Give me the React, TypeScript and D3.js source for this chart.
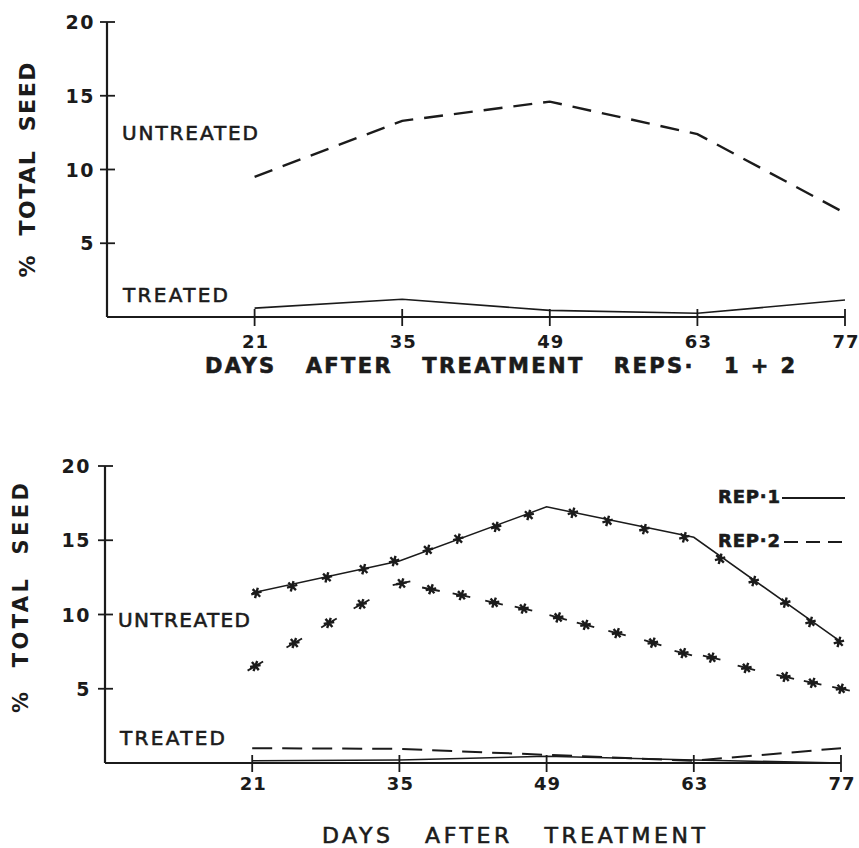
import React, { useEffect, useRef } from 'react';
import * as d3 from 'd3';

// x ticks (days after treatment) and y ticks (% total seed)
const days = [21, 35, 49, 63, 77];
const yTicks = [5, 10, 15, 20];

// top panel: reps 1 + 2 combined
const topUntreated = [9.5, 13.3, 14.6, 12.4, 7.05];
const topTreated = [0.6, 1.2, 0.45, 0.25, 1.15];

// bottom panel: untreated, line vertices
const rep1Untreated = [11.45, 13.6, 17.25, 15.2, 8.15];

// bottom panel: untreated, plotted marks
const rep1MarkDays = [21.4, 24.8, 28.1, 31.6, 34.5, 37.7, 40.6, 44.2, 47.3, 51.5, 54.8, 58.3, 62.1, 65.5, 68.7, 71.7, 74.1, 76.8];
const rep1MarkValues = [11.45, 11.9, 12.5, 13.05, 13.6, 14.35, 15.1, 15.9, 16.7, 16.85, 16.3, 15.75, 15.2, 13.75, 12.25, 10.8, 9.5, 8.15];
const rep2MarkDays = [21.3, 25, 28.3, 31.4, 35.2, 38, 40.9, 44, 46.8, 50.1, 52.7, 55.7, 59.1, 62, 64.7, 68, 71.7, 74.3, 77];
const rep2MarkValues = [6.53, 8.08, 9.43, 10.7, 12.1, 11.7, 11.3, 10.8, 10.4, 9.8, 9.3, 8.75, 8.1, 7.4, 7.1, 6.4, 5.8, 5.4, 5.0];

// bottom panel: treated
const rep1Treated = [0.15, 0.2, 0.45, 0.2, 0.0];
const rep2Treated = [1.0, 0.95, 0.55, 0.15, 1.0];

const W = 859;
const H = 848;
const INK = '#1b1b1b';
const FONT = '"DejaVu Sans", sans-serif';

type Panel = {
  x0: number; x1: number; yTop: number; yBase: number;
  tickLabelRight: number; tickLabelBase: number;
  yTitleX: number; yTitleMid: number; yTitleLen: number; yTitleSize: number;
};

function drawFrame(g: any, p: Panel) {
  const x = d3.scaleLinear().domain([7, 77]).range([p.x0, p.x1]);
  const y = d3.scaleLinear().domain([0, 20]).range([p.yBase, p.yTop]);

  // axes
  g.append('line').attr('x1', p.x0).attr('x2', p.x0).attr('y1', y(20)).attr('y2', p.yBase)
    .attr('stroke', INK).attr('stroke-width', 2.2);
  g.append('line').attr('x1', p.x0).attr('x2', x(77)).attr('y1', p.yBase).attr('y2', p.yBase)
    .attr('stroke', INK).attr('stroke-width', 2.2);

  g.selectAll('.ytick').data(yTicks).enter().append('line')
    .attr('x1', p.x0 - 7).attr('x2', p.x0 + 8)
    .attr('y1', (d: number) => y(d)).attr('y2', (d: number) => y(d))
    .attr('stroke', INK).attr('stroke-width', 1.8);
  g.selectAll('.ylab').data(yTicks).enter().append('text')
    .attr('x', p.tickLabelRight).attr('y', (d: number) => y(d) + 7)
    .attr('text-anchor', 'end').attr('font-family', FONT).attr('font-weight', 'bold')
    .attr('font-size', 19).attr('letter-spacing', 1.5).attr('fill', INK)
    .text((d: number) => d);

  g.selectAll('.xtick').data(days).enter().append('line')
    .attr('x1', (d: number) => x(d)).attr('x2', (d: number) => x(d))
    .attr('y1', p.yBase - 8).attr('y2', p.yBase + 9)
    .attr('stroke', INK).attr('stroke-width', 1.8);
  g.selectAll('.xlab').data(days).enter().append('text')
    .attr('x', (d: number) => x(d) + 1).attr('y', p.tickLabelBase)
    .attr('text-anchor', 'middle').attr('font-family', FONT).attr('font-weight', 'bold')
    .attr('font-size', 18).attr('letter-spacing', 1).attr('fill', INK)
    .text((d: number) => d);

  g.append('text')
    .attr('transform', `translate(${p.yTitleX},${p.yTitleMid}) rotate(-90)`)
    .attr('text-anchor', 'middle').attr('font-family', FONT).attr('font-weight', 'bold')
    .attr('font-size', p.yTitleSize).attr('fill', INK)
    .attr('textLength', p.yTitleLen).attr('lengthAdjust', 'spacing')
    .attr('xml:space', 'preserve')
    .text('%  TOTAL  SEED');

  return { x, y };
}

function label(g: any, txt: string, x: number, y: number, len: number, size = 20, weight = 'normal') {
  g.append('text').attr('x', x).attr('y', y)
    .attr('font-family', FONT).attr('font-size', size).attr('font-weight', weight)
    .attr('fill', INK).attr('stroke', INK).attr('stroke-width', 0.6)
    .attr('textLength', len).attr('lengthAdjust', 'spacing')
    .attr('xml:space', 'preserve')
    .text(txt);
}

const App = () => {
  const svgRef = useRef<SVGSVGElement>(null);

  useEffect(() => {
    if (!svgRef.current) return;
    const svg = d3.select(svgRef.current);
    svg.selectAll('*').remove();
    svg.append('rect').attr('width', W).attr('height', H).attr('fill', '#fff');

    // ---------- top panel ----------
    const top = svg.append('g');
    const t = drawFrame(top, {
      x0: 107, x1: 845, yTop: 22, yBase: 317,
      tickLabelRight: 95, tickLabelBase: 348,
      yTitleX: 35, yTitleMid: 170, yTitleLen: 215, yTitleSize: 22,
    });
    const lineT = d3.line<number>().x((_, i) => t.x(days[i])).y(d => t.y(d));
    top.append('path').attr('d', lineT(topUntreated)).attr('fill', 'none')
      .attr('stroke', INK).attr('stroke-width', 2.4).attr('stroke-dasharray', '19 11');
    top.append('path').attr('d', lineT(topTreated)).attr('fill', 'none')
      .attr('stroke', INK).attr('stroke-width', 1.6);

    label(top, 'UNTREATED', 122, 140, 136);
    label(top, 'TREATED', 123, 302, 105);
    label(top, 'DAYS   AFTER   TREATMENT   REPS·   1 + 2', 205, 373, 590, 21, 'bold');

    // ---------- bottom panel ----------
    const bot = svg.append('g');
    const b = drawFrame(bot, {
      x0: 105, x1: 841, yTop: 466, yBase: 763,
      tickLabelRight: 91, tickLabelBase: 790,
      yTitleX: 28, yTitleMid: 598, yTitleLen: 230, yTitleSize: 21,
    });
    const lineB = d3.line<number>().x((_, i) => b.x(days[i])).y(d => b.y(d));

    // rep 1 untreated, solid with marks
    bot.append('path').attr('d', lineB(rep1Untreated)).attr('fill', 'none')
      .attr('stroke', INK).attr('stroke-width', 1.5);

    const star = d3.symbol().type(d3.symbolAsterisk).size(80);
    bot.selectAll('.m1').data(rep1MarkDays).enter().append('path')
      .attr('d', star())
      .attr('transform', (d: number, i: number) => `translate(${b.x(d)},${b.y(rep1MarkValues[i])}) rotate(15)`)
      .attr('fill', 'none').attr('stroke', INK).attr('stroke-width', 2.4);

    // rep 2 untreated, dashed with marks: short dash through each mark
    const pts = rep2MarkDays.map((d, i) => [b.x(d), b.y(rep2MarkValues[i])]);
    pts.forEach((pt, i) => {
      const a = pts[Math.max(0, i - 1)];
      const c = pts[Math.min(pts.length - 1, i + 1)];
      const ang = Math.atan2(c[1] - a[1], c[0] - a[0]);
      const h = 9;
      bot.append('line')
        .attr('x1', pt[0] - h * Math.cos(ang)).attr('y1', pt[1] - h * Math.sin(ang))
        .attr('x2', pt[0] + h * Math.cos(ang)).attr('y2', pt[1] + h * Math.sin(ang))
        .attr('stroke', INK).attr('stroke-width', 1.8);
    });
    bot.selectAll('.m2').data(rep2MarkDays).enter().append('path')
      .attr('d', star())
      .attr('transform', (d: number, i: number) => `translate(${b.x(d)},${b.y(rep2MarkValues[i])}) rotate(20)`)
      .attr('fill', 'none').attr('stroke', INK).attr('stroke-width', 2.4);

    // treated
    bot.append('path').attr('d', lineB(rep1Treated)).attr('fill', 'none')
      .attr('stroke', INK).attr('stroke-width', 1.6);
    bot.append('path').attr('d', lineB(rep2Treated)).attr('fill', 'none')
      .attr('stroke', INK).attr('stroke-width', 2).attr('stroke-dasharray', '20 10');

    label(bot, 'UNTREATED', 118, 627, 132);
    label(bot, 'TREATED', 120, 745, 105);
    label(bot, 'DAYS   AFTER   TREATMENT', 322, 843, 383, 22);

    // legend
    label(bot, 'REP·1', 718, 503, 62, 18, 'bold');
    bot.append('line').attr('x1', 782).attr('x2', 845).attr('y1', 498).attr('y2', 498)
      .attr('stroke', INK).attr('stroke-width', 2.2);
    label(bot, 'REP·2', 718, 547, 62, 18, 'bold');
    bot.append('line').attr('x1', 784).attr('x2', 845).attr('y1', 542).attr('y2', 542)
      .attr('stroke', INK).attr('stroke-width', 2).attr('stroke-dasharray', '14 8');
  }, []);

  return (
    <svg ref={svgRef} width={W} height={H} style={{ position: 'absolute', left: 0, top: 0 }} />
  );
};

export default App;
